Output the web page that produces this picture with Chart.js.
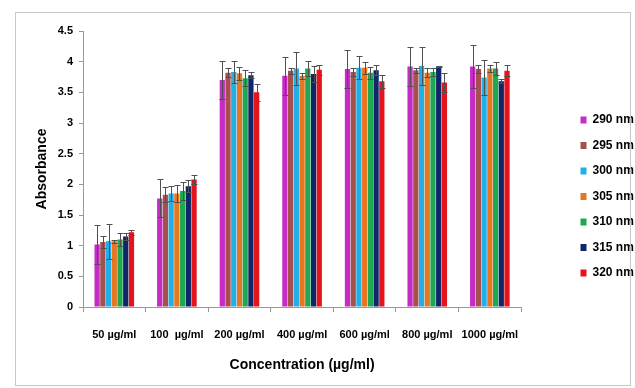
<!DOCTYPE html>
<html>
<head>
<meta charset="utf-8">
<script src="https://cdn.jsdelivr.net/npm/chart.js@4.4.1/dist/chart.umd.min.js"></script>
<style>
  body { margin: 0; background: #fff; }
  #wrap { position: absolute; left: 0; top: 0; width: 635px; height: 388px; }
  #frame { position: absolute; left: 15px; top: 12px; width: 614px; height: 372px; border: 1px solid #c8c8c8; pointer-events: none; }
</style>
</head>
<body>
<div id="wrap"><canvas id="absChart"></canvas></div>
<div id="frame"></div>
<script>
const categories = ['50 µg/ml', '100  µg/ml', '200 µg/ml', '400 µg/ml', '600 µg/ml', '800 µg/ml', '1000 µg/ml'];
const wavelengths = ['290 nm', '295 nm', '300 nm', '305 nm', '310 nm', '315 nm', '320 nm'];
const colors = ['#c52bc5', '#a5504f', '#22aee6', '#e6761f', '#1fa852', '#0f2668', '#e5141c'];

// absorbance per wavelength (one value per concentration)
const abs290 = [1.02, 1.77, 3.70, 3.77, 3.88, 3.92, 3.92];
const abs295 = [1.06, 1.83, 3.82, 3.85, 3.83, 3.86, 3.88];
const abs300 = [1.07, 1.85, 3.83, 3.89, 3.90, 3.93, 3.74];
const abs305 = [1.07, 1.85, 3.81, 3.77, 3.90, 3.82, 3.89];
const abs310 = [1.10, 1.89, 3.73, 3.89, 3.82, 3.83, 3.89];
const abs315 = [1.15, 1.97, 3.78, 3.80, 3.86, 3.92, 3.68];
const abs320 = [1.22, 2.08, 3.50, 3.87, 3.68, 3.66, 3.85];

// standard deviations
const err290 = [0.32, 0.31, 0.31, 0.31, 0.31, 0.32, 0.35];
const err295 = [0.10, 0.12, 0.07, 0.05, 0.06, 0.04, 0.07];
const err300 = [0.29, 0.12, 0.18, 0.27, 0.19, 0.31, 0.29];
const err305 = [0.03, 0.14, 0.11, 0.05, 0.10, 0.07, 0.06];
const err310 = [0.11, 0.15, 0.13, 0.12, 0.10, 0.07, 0.10];
const err315 = [0.05, 0.10, 0.05, 0.13, 0.08, 0.01, 0.03];
const err320 = [0.04, 0.07, 0.14, 0.08, 0.11, 0.16, 0.09];

const allValues = [abs290, abs295, abs300, abs305, abs310, abs315, abs320];
const allErrors = [err290, err295, err300, err305, err310, err315, err320];

const fontFamily = "'Liberation Sans', Arial, sans-serif";
const tickFont = { family: fontFamily, weight: 'bold', size: 11 };

// draws the error bars with the y scale of the chart
const errorBars = {
    id: 'errorBars',
    afterDatasetsDraw(chart) {
        const ctx = chart.ctx;
        const yScale = chart.scales.y;
        ctx.save();
        ctx.strokeStyle = '#505050';
        ctx.lineWidth = 1;
        chart.data.datasets.forEach((ds, i) => {
            const meta = chart.getDatasetMeta(i);
            meta.data.forEach((bar, j) => {
                const v = ds.data[j];
                const e = ds.errors[j];
                const top = Math.round(yScale.getPixelForValue(v + e)) + 0.5;
                const bot = Math.round(yScale.getPixelForValue(v - e)) + 0.5;
                const x = Math.round(bar.x) + 0.5;
                const half = 3;
                ctx.beginPath();
                ctx.moveTo(x, top); ctx.lineTo(x, bot);
                ctx.moveTo(x - half, top); ctx.lineTo(x + half, top);
                ctx.moveTo(x - half, bot); ctx.lineTo(x + half, bot);
                ctx.stroke();
            });
        });
        ctx.restore();
    }
};

// keep the legend at the far right, leaving white space next to the plot
const legendPlace = {
    id: 'legendPlace',
    afterLayout(chart) {
        const lg = chart.legend;
        lg.left = 567;
        lg.right = chart.width;
        lg.top -= 7;
        lg.bottom -= 7;
    }
};

document.addEventListener('DOMContentLoaded', () => {
    const datasets = wavelengths.map((w, i) => ({
        label: w,
        data: allValues[i],
        errors: allErrors[i],
        backgroundColor: colors[i],
        borderWidth: 0,
        barPercentage: 0.92,
        categoryPercentage: 0.64
    }));

    const config = {
        type: 'bar',
        data: { labels: categories, datasets: datasets },
        options: {
            responsive: true,
            maintainAspectRatio: false,
            animation: false,
            layout: { padding: { top: 31, right: 37, bottom: 12, left: 26 } },
            plugins: {
                legend: {
                    position: 'right',
                    align: 'center',
                    labels: {
                        boxWidth: 6,
                        boxHeight: 7,
                        padding: 13.5,
                        color: '#000',
                        font: { family: fontFamily, weight: 'bold', size: 12 }
                    }
                },
                tooltip: { enabled: false }
            },
            scales: {
                x: {
                    afterFit: (scale) => { scale.height = 69; },
                    grid: { display: true, drawOnChartArea: false, color: '#999', tickLength: 5 },
                    border: { color: '#999' },
                    ticks: { color: '#000', font: tickFont, padding: 16, maxRotation: 0, autoSkip: false },
                    title: {
                        display: true,
                        text: 'Concentration (µg/ml)',
                        color: '#000',
                        font: { family: fontFamily, weight: 'bold', size: 14 },
                        padding: { top: 0, bottom: 2 }
                    }
                },
                y: {
                    min: 0,
                    max: 4.5,
                    afterFit: (scale) => { scale.width = 57; },
                    ticks: {
                        stepSize: 0.5,
                        color: '#000',
                        font: tickFont,
                        padding: 6,
                        callback: (v) => String(v)
                    },
                    grid: { display: true, drawOnChartArea: false, color: '#999', tickLength: 4 },
                    border: { color: '#999' },
                    title: {
                        display: true,
                        text: 'Absorbance',
                        color: '#000',
                        font: { family: fontFamily, weight: 'bold', size: 14 },
                        padding: { top: 7.6, bottom: 0 }
                    }
                }
            }
        },
        plugins: [errorBars, legendPlace]
    };

    new Chart(document.getElementById('absChart').getContext('2d'), config);
});
</script>
</body>
</html>
